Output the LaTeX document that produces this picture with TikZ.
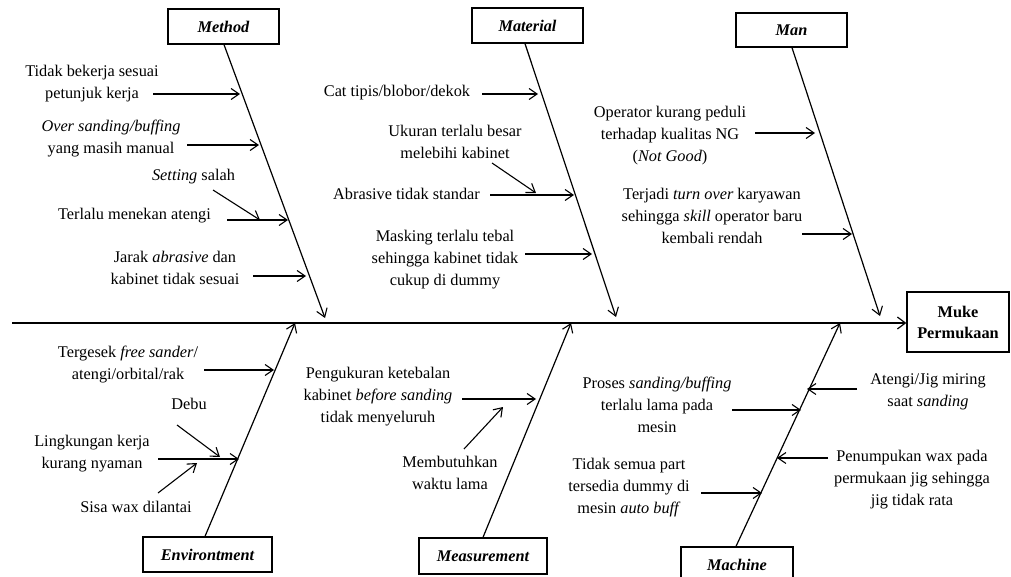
\documentclass[tikz,border=0pt]{standalone}
\usepackage{fontspec}
\setmainfont{Liberation Serif}
\usetikzlibrary{arrows.meta}
\begin{document}
\begin{tikzpicture}[x=1pt,y=-1pt,
  catbox/.style={draw, line width=1.3pt, minimum height=35pt, inner sep=0pt, font=\fontsize{16.3}{22}\selectfont\bfseries\itshape},
  txt/.style={align=center, inner sep=0pt, font=\fontsize{16.3}{22}\selectfont},
  cause/.style={line width=1.1pt, -{Straight Barb[length=8pt,width=11pt,line width=1.1pt]}},
  bone/.style={line width=1.2pt, -{Straight Barb[length=8pt,width=11pt,line width=1.1pt]}},
  spine/.style={line width=2pt, -{Straight Barb[length=8pt,width=12pt,line width=1.2pt]}}]
\useasboundingbox (0,0) rectangle (1011,577);

% category boxes
\node[catbox, minimum width=111pt] (method) at (223.5,26.5) {Method};
\node[catbox, minimum width=111pt] (material) at (527.5,25.5) {Material};
\node[catbox, minimum width=111pt, minimum height=34pt] (man) at (791.5,30) {Man};
\node[catbox, minimum width=129pt] (env) at (207.5,554.5) {Environtment};
\node[catbox, minimum width=128pt, minimum height=36pt] (meas) at (483,556) {Measurement};
\node[catbox, minimum width=112pt, minimum height=36pt] (mach) at (737,565) {Machine};
\node[draw, line width=1.3pt, minimum width=102pt, minimum height=60pt, align=center, inner sep=0pt,
      font=\fontsize{16.3}{21}\selectfont\bfseries] (muke) at (958,322) {Muke\\Permukaan};

% spine
\coordinate (spst) at (12,323);
\draw[spine] (spst) -- (spst -| muke.west);

% bones
\coordinate (mtip) at (325,318);
\coordinate (ttip) at (616,317);
\coordinate (ntip) at (880,316);
\coordinate (etip) at (295,323);
\coordinate (stip) at (571,323);
\coordinate (ctip) at (840,323);
\draw[bone] (method.south -| 224,0) -- (mtip);
\draw[bone] (material.south -| 525,0) -- (ttip);
\draw[bone] (man.south -| 792,0) -- (ntip);
\draw[bone] (env.north -| 205,0) -- (etip);
\draw[bone] (meas.north -| 483,0) -- (stip);
\draw[bone] (mach.north -| 736,0) -- (ctip);

% Method causes
\node[txt] (m1) at (92,84) {Tidak bekerja sesuai\\petunjuk kerja};
\node[txt] (m2) at (111,138.5) {\textit{Over sanding/buffing}\\yang masih manual};
\node[txt] (m3) at (193.5,177) {\textit{Setting} salah};
\node[txt] (m4) at (134.5,216) {Terlalu menekan atengi};
\node[txt] (m5) at (175,268) {Jarak \textit{abrasive} dan\\kabinet tidak sesuai};
\coordinate (m1a) at (153,94);  \coordinate (m1b) at (240,94);
\coordinate (m2a) at (187,145); \coordinate (m2b) at (259,145);
\coordinate (m3a) at (213,190); \coordinate (m3b) at (260,220);
\coordinate (m4a) at (227,220); \coordinate (m4b) at (288,220);
\coordinate (m5a) at (253,276); \coordinate (m5b) at (306,276);
\draw[cause] (m1a) -- (m1b);
\draw[cause] (m2a) -- (m2b);
\draw[cause] (m3a) -- (m3b);
\draw[cause] (m4a) -- (m4b);
\draw[cause] (m5a) -- (m5b);

% Material causes
\node[txt] (t1) at (397,93) {Cat tipis/blobor/dekok};
\node[txt] (t2) at (455,141.5) {Ukuran terlalu besar\\melebihi kabinet};
\node[txt] (t3) at (406.5,194) {Abrasive tidak standar};
\node[txt] (t4) at (445,259.5) {Masking terlalu tebal\\sehingga kabinet tidak\\cukup di dummy};
\coordinate (t1a) at (482,94);  \coordinate (t1b) at (538,94);
\coordinate (t2a) at (492,163); \coordinate (t2b) at (536,193);
\coordinate (t3a) at (490,195); \coordinate (t3b) at (574,195);
\coordinate (t4a) at (525,254); \coordinate (t4b) at (592,254);
\draw[cause] (t1a) -- (t1b);
\draw[cause] (t2a) -- (t2b);
\draw[cause] (t3a) -- (t3b);
\draw[cause] (t4a) -- (t4b);

% Man causes
\node[txt] (n1) at (670,135.5) {Operator kurang peduli\\terhadap kualitas NG\\(\textit{Not Good})};
\node[txt] (n2) at (712,215.5) {Terjadi \textit{turn over} karyawan\\sehingga \textit{skill} operator baru\\kembali rendah};
\coordinate (n1a) at (755,133); \coordinate (n1b) at (815,133);
\coordinate (n2a) at (802,234); \coordinate (n2b) at (852,234);
\draw[cause] (n1a) -- (n1b);
\draw[cause] (n2a) -- (n2b);

% Environment causes
\node[txt] (e1) at (128,364.5) {Tergesek \textit{free sander}/\\atengi/orbital/rak};
\node[txt] (e2) at (189,404) {Debu};
\node[txt] (e3) at (92,454) {Lingkungan kerja\\kurang nyaman};
\node[txt] (e4) at (136,507) {Sisa wax dilantai};
\coordinate (e1a) at (204,370); \coordinate (e1b) at (274,370);
\coordinate (e2a) at (177,425); \coordinate (e2b) at (220,457);
\coordinate (e3a) at (158,459); \coordinate (e3b) at (239,459);
\coordinate (e4a) at (158,493); \coordinate (e4b) at (197,463);
\draw[cause] (e1a) -- (e1b);
\draw[cause] (e2a) -- (e2b);
\draw[cause] (e3a) -- (e3b);
\draw[cause] (e4a) -- (e4b);

% Measurement causes
\node[txt] (s1) at (378,397) {Pengukuran ketebalan\\kabinet \textit{before sanding}\\tidak menyeluruh};
\node[txt] (s2) at (450,473) {Membutuhkan\\waktu lama};
\coordinate (s1a) at (462,399); \coordinate (s1b) at (536,399);
\coordinate (s2a) at (464,449); \coordinate (s2b) at (503,407);
\draw[cause] (s1a) -- (s1b);
\draw[cause] (s2a) -- (s2b);

% Machine causes
\node[txt] (c1) at (657,404.5) {Proses \textit{sanding/buffing}\\terlalu lama pada\\mesin};
\node[txt] (c2) at (928,391.5) {Atengi/Jig miring\\saat \textit{sanding}};
\node[txt] (c3) at (629,488) {Tidak semua part\\tersedia dummy di\\mesin \textit{auto buff}};
\node[txt] (c4) at (912,480) {Penumpukan wax pada\\permukaan jig sehingga\\jig tidak rata};
\coordinate (c1a) at (732,410); \coordinate (c1b) at (801,410);
\coordinate (c2a) at (857,389); \coordinate (c2b) at (807,389);
\coordinate (c3a) at (701,493); \coordinate (c3b) at (762,493);
\coordinate (c4a) at (828,458); \coordinate (c4b) at (777,458);
\draw[cause] (c1a) -- (c1b);
\draw[cause] (c2a) -- (c2b);
\draw[cause] (c3a) -- (c3b);
\draw[cause] (c4a) -- (c4b);
\end{tikzpicture}
\end{document}
